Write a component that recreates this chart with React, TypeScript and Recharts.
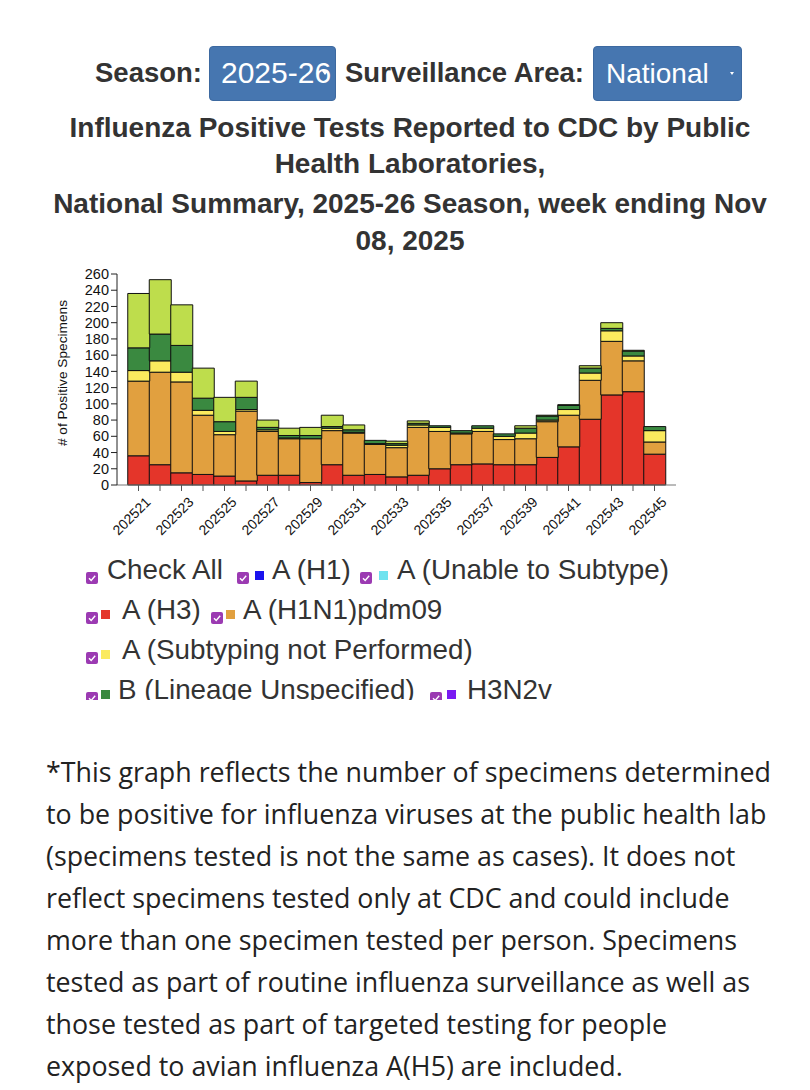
import React from 'react';
import { BarChart, Bar, XAxis, YAxis } from 'recharts';

const weeks = ['202521','202522','202523','202524','202525','202526','202527','202528','202529','202530','202531','202532','202533','202534','202535','202536','202537','202538','202539','202540','202541','202542','202543','202544','202545'];
const aH3 = [36,25,15,13,11,5,12,12,3,25,12,13,10,12,20,25,26,25,25,34,47,81,111,115,38];
const aH1N1pdm09 = [92,114,112,73,51,86,54,45,54,42,52,37,36,59,46,38,40,31,32,44,39,48,66,38,15];
const aNotPerformed = [13,14,12,6,4,2,2,1,0,3,1,1,3,3,5,1,4,4,7,2,7,9,13,6,14];
const bLineageUnspecified = [28,33,33,15,12,15,3,3,4,2,3,4,2,2,2,3,3,3,6,5,5,6,3,6,5];
const bVictoria = [67,67,50,37,30,20,9,9,10,14,6,0,3,3,0,0,0,0,3,1,1,3,7,1,0];
const yTicks = [0,20,40,60,80,100,120,140,160,180,200,220,240,260];

const data = weeks.map((w, i) => ({
  week: w,
  h3: aH3[i],
  h1n1: aH1N1pdm09[i],
  snp: aNotPerformed[i],
  blu: bLineageUnspecified[i],
  bvic: bVictoria[i],
}));

const SANS = '"Liberation Sans", Arial, Helvetica, sans-serif';
const BODY = '"Open Sans", "Noto Sans", sans-serif';

const XTick = (props: any) => {
  const { x, y, payload, index } = props;
  if (index % 2 !== 0) return null;
  return (
    <g transform={`translate(${x + 6},${y + 3})`}>
      <text x={0} y={0} dy="0.71em" textAnchor="end" transform="rotate(-45)" fontSize={14} fontFamily={SANS} fill="#111">
        {payload.value}
      </text>
    </g>
  );
};

const Check = ({ left, top }: { left: number; top: number }) => (
  <div style={{ position: 'absolute', left, top, width: 12, height: 12, borderRadius: 2, background: '#9B3AB2' }}>
    <svg width={12} height={12} style={{ position: 'absolute', left: 0, top: 0 }}>
      <path d="M3 6.2 L5.2 8.4 L9.2 3.8" stroke="#fff" strokeWidth={1.4} fill="none" />
    </svg>
  </div>
);

const Swatch = ({ left, top, color }: { left: number; top: number; color: string }) => (
  <div style={{ position: 'absolute', left, top, width: 9, height: 9, background: color }} />
);

const LText = ({ left, center, text }: { left: number; center: number; text: string }) => (
  <div style={{ position: 'absolute', left, top: center - 17, height: 34, lineHeight: '34px', fontSize: 27.8, fontFamily: SANS, color: '#333', whiteSpace: 'nowrap' }}>{text}</div>
);

const titleLines = [
  { t: 'Influenza Positive Tests Reported to CDC by Public', c: 128 },
  { t: 'Health Laboratories,', c: 164 },
  { t: 'National Summary, 2025-26 Season, week ending Nov', c: 204 },
  { t: '08, 2025', c: 241 },
];

const bodyLines = [
  '*This graph reflects the number of specimens determined',
  'to be positive for influenza viruses at the public health lab',
  '(specimens tested is not the same as cases). It does not',
  'reflect specimens tested only at CDC and could include',
  'more than one specimen tested per person. Specimens',
  'tested as part of routine influenza surveillance as well as',
  'those tested as part of targeted testing for people',
  'exposed to avian influenza A(H5) are included.',
];

export default function App() {
  return (
    <div style={{ position: 'absolute', left: 0, top: 0, width: 810, height: 1090, background: '#fff', overflow: 'hidden' }}>
      {/* header controls */}
      <div style={{ position: 'absolute', left: 95, top: 54, lineHeight: '38px', fontSize: 27.5, fontWeight: 'bold', fontFamily: SANS, color: '#333' }}>Season:</div>
      <div style={{ position: 'absolute', left: 209, top: 46, width: 127, height: 55, borderRadius: 4, background: '#4676B0', border: '1px solid #3d69a0', boxSizing: 'border-box' }}>
        <div style={{ position: 'absolute', left: 11, top: 7, lineHeight: '38px', fontSize: 30, fontFamily: SANS, color: '#fff' }}>2025-26</div>
        <div style={{ position: 'absolute', left: 112, top: 24, width: 0, height: 0, borderLeft: '3px solid transparent', borderRight: '3px solid transparent', borderTop: '4px solid #fff' }} />
      </div>
      <div style={{ position: 'absolute', left: 345, top: 54, lineHeight: '38px', fontSize: 27.5, fontWeight: 'bold', fontFamily: SANS, color: '#333' }}>Surveillance Area:</div>
      <div style={{ position: 'absolute', left: 593, top: 46, width: 149, height: 55, borderRadius: 4, background: '#4676B0', border: '1px solid #3d69a0', boxSizing: 'border-box' }}>
        <div style={{ position: 'absolute', left: 12, top: 8, lineHeight: '38px', fontSize: 28, fontFamily: SANS, color: '#fff' }}>National</div>
        <div style={{ position: 'absolute', left: 136, top: 25, width: 0, height: 0, borderLeft: '2.5px solid transparent', borderRight: '2.5px solid transparent', borderTop: '3px solid #fff' }} />
      </div>

      {/* title */}
      {titleLines.map((l) => (
        <div key={l.t} style={{ position: 'absolute', left: 0, width: 820, textAlign: 'center', top: l.c - 19, lineHeight: '38px', fontSize: 28, fontWeight: 'bold', fontFamily: SANS, color: '#333', whiteSpace: 'nowrap' }}>{l.t}</div>
      ))}

      {/* y axis label */}
      <div style={{ position: 'absolute', left: 63 - 100, top: 373 - 9, width: 200, height: 18, lineHeight: '18px', textAlign: 'center', fontSize: 13.7, fontFamily: SANS, color: '#111', transform: 'rotate(-90deg)' }}># of Positive Specimens</div>

      {/* chart */}
      <div style={{ position: 'absolute', left: 0, top: 264 }}>
        <BarChart width={690} height={290} data={data} margin={{ top: 10, right: 14, bottom: 0, left: 57 }} barCategoryGap={0} barGap={0}>
          <XAxis dataKey="week" interval={0} tick={<XTick />} tickSize={6} height={69} padding={{ left: 10.75, right: 10.75 }} axisLine={{ stroke: '#777' }} tickLine={{ stroke: '#555' }} />
          <YAxis domain={[0, 260]} ticks={yTicks} interval={0} width={60} tickSize={6} axisLine={{ stroke: '#222' }} tickLine={{ stroke: '#222' }} tick={{ fontSize: 14.5, fontFamily: SANS, fill: '#111' }} />
          <Bar dataKey="h3" stackId="a" fill="#E4352A" stroke="#111" strokeWidth={1} isAnimationActive={false} />
          <Bar dataKey="h1n1" stackId="a" fill="#E1A03F" stroke="#111" strokeWidth={1} isAnimationActive={false} />
          <Bar dataKey="snp" stackId="a" fill="#FBEA5E" stroke="#111" strokeWidth={1} isAnimationActive={false} />
          <Bar dataKey="blu" stackId="a" fill="#3A8940" stroke="#111" strokeWidth={1} isAnimationActive={false} />
          <Bar dataKey="bvic" stackId="a" fill="#BEDD4C" stroke="#111" strokeWidth={1} isAnimationActive={false} />
        </BarChart>
      </div>

      {/* legend (clipped like the reference) */}
      <div style={{ position: 'absolute', left: 0, top: 540, width: 810, height: 160, overflow: 'hidden' }}>
        <div style={{ position: 'absolute', left: 0, top: -540 }}>
          <Check left={86} top={572} />
          <LText left={107} center={570} text="Check All" />
          <Check left={237} top={572} />
          <Swatch left={255} top={571} color="#1A13EE" />
          <LText left={272} center={570} text="A (H1)" />
          <Check left={360} top={572} />
          <Swatch left={379} top={571} color="#6FE3EF" />
          <LText left={397} center={570} text="A (Unable to Subtype)" />

          <Check left={86} top={612} />
          <Swatch left={101} top={610} color="#E4352A" />
          <LText left={122} center={610} text="A (H3)" />
          <Check left={211} top={612} />
          <Swatch left={226} top={610} color="#E1A03F" />
          <LText left={243} center={610} text="A (H1N1)pdm09" />

          <Check left={86} top={652} />
          <Swatch left={101} top={650} color="#FBEA5E" />
          <LText left={122} center={650} text="A (Subtyping not Performed)" />

          <Check left={86} top={692} />
          <Swatch left={101} top={690} color="#3A8940" />
          <LText left={118} center={690} text="B (Lineage Unspecified)" />
          <Check left={430} top={692} />
          <Swatch left={447} top={690} color="#7A1AF2" />
          <LText left={467} center={690} text="H3N2v" />
        </div>
      </div>

      {/* footnote */}
      {bodyLines.map((t, i) => (
        <div key={i} style={{ position: 'absolute', left: 46, top: 772 + i * 42 - 20, height: 40, lineHeight: '40px', fontSize: 26.8, fontFamily: BODY, color: '#222', whiteSpace: 'nowrap' }}>{t}</div>
      ))}
    </div>
  );
}
